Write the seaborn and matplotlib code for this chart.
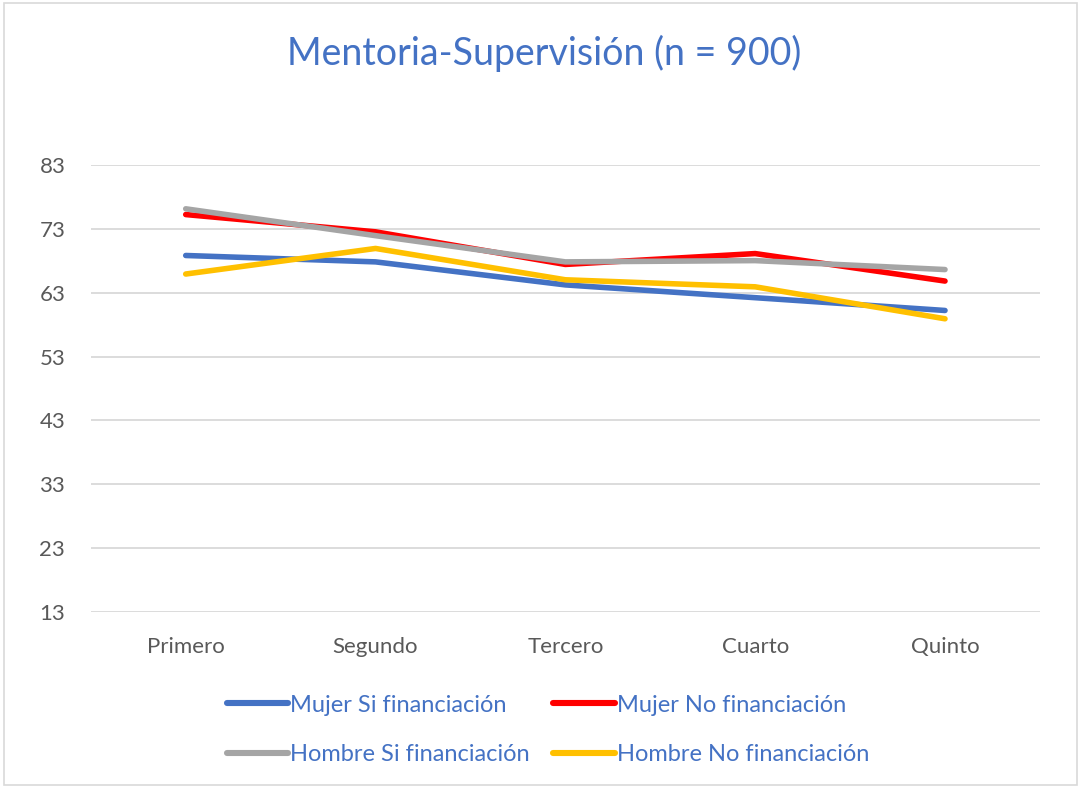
import matplotlib
matplotlib.use("Agg")
import matplotlib.pyplot as plt
import seaborn as sns
import pandas as pd
from matplotlib.lines import Line2D

categorias = ["Primero", "Segundo", "Tercero", "Cuarto", "Quinto"]
mujer_si = [68.8, 67.8, 64.2, 62.2, 60.2]
mujer_no = [75.2, 72.5, 67.4, 69.1, 64.8]
hombre_si = [76.1, 71.9, 67.8, 68.0, 66.6]
hombre_no = [65.9, 69.9, 65.0, 63.9, 58.9]
series = ["Mujer Si financiación", "Mujer No financiación",
          "Hombre Si financiación", "Hombre No financiación"]
colores = ["#4472C4", "#FF0000", "#A5A5A5", "#FFC000"]
yticks = [13, 23, 33, 43, 53, 63, 73, 83]

rows = []
for name, vals in zip(series, [mujer_si, mujer_no, hombre_si, hombre_no]):
    for i, (c, v) in enumerate(zip(categorias, vals)):
        rows.append({"x": i, "cat": c, "valor": v, "serie": name})
df = pd.DataFrame(rows)

sns.set_theme(style="white")
plt.rcParams["font.family"] = ["Lato", "DejaVu Sans"]

fig = plt.figure(figsize=(10.81, 7.88), dpi=100)
ax = fig.add_axes([0.084, 0.223, 0.878, 0.568])

sns.lineplot(data=df, x="x", y="valor", hue="serie", hue_order=series,
             palette=colores, linewidth=4.0, ax=ax, legend=False,
             solid_capstyle="round")

ax.set_xlim(-0.5, 4.5)
ax.set_ylim(13, 83)
ax.set_yticks(yticks)
ax.set_xticks(range(len(categorias)))
ax.set_xticklabels(categorias)
ax.set_xlabel("")
ax.set_ylabel("")
ax.grid(axis="y", color="#D9D9D9", linewidth=1.3)
ax.set_axisbelow(True)
for s in ax.spines.values():
    s.set_visible(False)
ax.tick_params(axis="both", length=0, labelsize=16, colors="#595959")
ax.tick_params(axis="x", pad=18)
ax.tick_params(axis="y", pad=37)
for lbl in ax.get_yticklabels():
    lbl.set_horizontalalignment("left")

fig.text(0.503, 0.932, "Mentoria-Supervisión (n = 900)", ha="center", va="center",
         fontsize=27, color="#4472C4")

# row-major order: matplotlib fills legend columns first
orden = [0, 2, 1, 3]
handles = [Line2D([0], [0], color=colores[i], linewidth=4.4, solid_capstyle="round") for i in orden]
labels = [series[i] for i in orden]
leg = fig.legend(handles, labels, loc="center", bbox_to_anchor=(0.507, 0.074), ncol=2,
                 frameon=False, fontsize=17, handlelength=2.6, handletextpad=0.1,
                 columnspacing=1.0, labelspacing=1.2)
for t in leg.get_texts():
    t.set_color("#4472C4")

fig.patches.append(plt.Rectangle((0.004, 0.004), 0.992, 0.992, transform=fig.transFigure,
                                 fill=False, edgecolor="#D9D9D9", linewidth=1.2))

fig.savefig("out.png", dpi=100)
